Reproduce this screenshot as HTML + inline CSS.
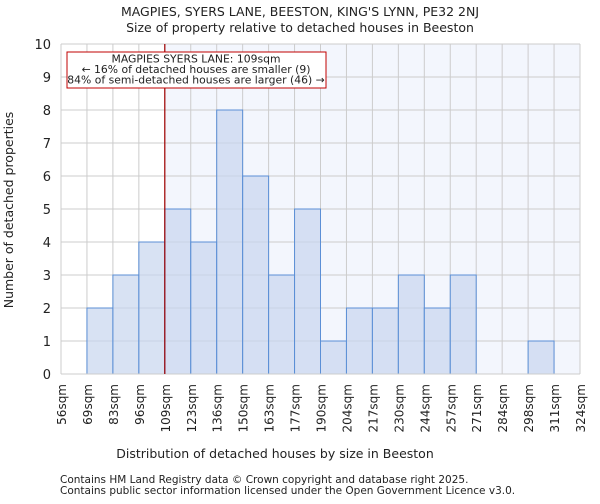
<!DOCTYPE html>
<html><head><meta charset="utf-8"><style>
body{margin:0;background:#fff;font-family:"DejaVu Sans","Liberation Sans",sans-serif;}
svg text{font-family:"DejaVu Sans","Liberation Sans",sans-serif;fill:#222;}
</style></head><body>
<svg id="c" width="600" height="500" xmlns="http://www.w3.org/2000/svg">
<text x="300" y="16" text-anchor="middle" font-size="12.5">MAGPIES, SYERS LANE, BEESTON, KING'S LYNN, PE32 2NJ</text>
<text x="300" y="32" text-anchor="middle" font-size="12.5">Size of property relative to detached houses in Beeston</text>
<g id="plot"></g>
<text x="275" y="458" text-anchor="middle" font-size="12.5">Distribution of detached houses by size in Beeston</text>
<text transform="translate(13,210) rotate(-90)" text-anchor="middle" font-size="12.5">Number of detached properties</text>
<text x="60" y="483" font-size="10.5" fill="#444">Contains HM Land Registry data © Crown copyright and database right 2025.</text>
<text x="60" y="494" font-size="10.5" fill="#444">Contains public sector information licensed under the Open Government Licence v3.0.</text>
</svg>
<script>
const binLabels=["56sqm","69sqm","83sqm","96sqm","109sqm","123sqm","136sqm","150sqm","163sqm","177sqm","190sqm","204sqm","217sqm","230sqm","244sqm","257sqm","271sqm","284sqm","298sqm","311sqm","324sqm"];
const counts=[0,2,3,4,5,4,8,6,3,5,1,2,2,3,2,3,0,0,1,0];
const yTicks=[0,1,2,3,4,5,6,7,8,9,10];
const markerBin=4;
const NS="http://www.w3.org/2000/svg";
const L=61,R=580,T=44,B=374,yMax=10;
const bw=(R-L)/counts.length;
const x=i=>L+i*bw, y=v=>B-(B-T)*v/yMax;
const g=document.getElementById('plot');
function mk(t,a){const e=document.createElementNS(NS,t);for(const k in a)e.setAttribute(k,a[k]);g.appendChild(e);return e;}
let e;
e=mk('rect',{x:x(markerBin),y:T,width:R-x(markerBin),height:B-T,fill:'#f3f6fd'});


yTicks.forEach(v=>{
 e=mk('line',{x1:L,x2:R,y1:y(v),y2:y(v),stroke:'#cccccc','stroke-width':1});
 
 
 e=mk('text',{x:L-10,y:y(v)+5,'text-anchor':'end','font-size':13});e.textContent=v;
 
 
});
binLabels.forEach((lb,i)=>{
 e=mk('line',{x1:x(i),x2:x(i),y1:T,y2:B,stroke:'#cccccc','stroke-width':1});
 
 
 e=mk('text',{transform:`translate(${x(i)+5},${B+10}) rotate(-90)`,'text-anchor':'end','font-size':12});e.textContent=lb;
 
 
});
counts.forEach((c,i)=>{
 if(c<=0)return;
 e=mk('rect',{x:x(i),y:y(c),width:bw,height:B-y(c),fill:'rgba(200,214,238,0.7)',stroke:'#5b8fd6','stroke-width':1});
 
 
});
e=mk('line',{x1:L,x2:L,y1:T,y2:B,stroke:'#cccccc'});


e=mk('line',{x1:L,x2:R,y1:B,y2:B,stroke:'#cccccc'});


e=mk('line',{x1:x(markerBin),x2:x(markerBin),y1:T,y2:B,stroke:'#a00000','stroke-width':1.2});


e=mk('rect',{x:67,y:52,width:259,height:36,fill:'#fff',stroke:'#c00000','stroke-width':1});


["MAGPIES SYERS LANE: 109sqm","← 16% of detached houses are smaller (9)","84% of semi-detached houses are larger (46) →"].forEach((t,i)=>{
 e=mk('text',{x:196,y:62.5+i*10.5,'text-anchor':'middle','font-size':10.8});e.textContent=t;
 
 
});
</script>
</body></html>
